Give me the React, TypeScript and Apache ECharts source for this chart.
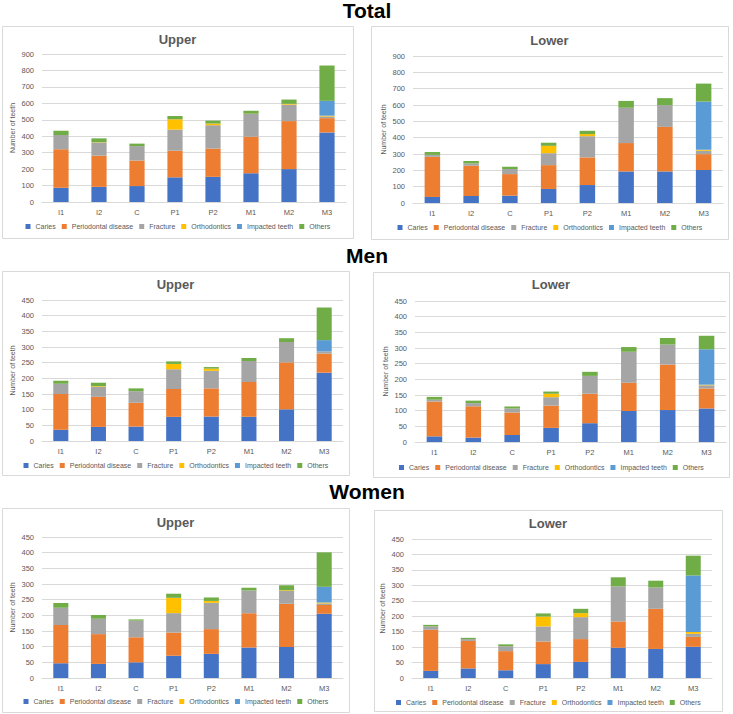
import React, { useEffect, useRef } from "react";
import * as echarts from "echarts";

const categories = ["I1", "I2", "C", "P1", "P2", "M1", "M2", "M3"];
const seriesNames = ["Caries", "Periodontal disease", "Fracture", "Orthodontics", "Impacted teeth", "Others"];
const seriesColors = ["#4472C4", "#ED7D31", "#A5A5A5", "#FFC000", "#5B9BD5", "#70AD47"];
const groupTitles = ["Total", "Men", "Women"];
const panelTitles = ["Upper", "Lower"];
const yAxisName = "Number of teeth";

// Total – Upper
const totalUpperCaries = [87, 92, 97, 150, 153, 175, 200, 423];
const totalUpperPerio = [234, 190, 155, 162, 172, 222, 292, 87];
const totalUpperFracture = [87, 80, 88, 128, 142, 138, 100, 10];
const totalUpperOrtho = [0, 2, 0, 63, 10, 2, 5, 5];
const totalUpperImpacted = [0, 0, 0, 0, 0, 0, 0, 90];
const totalUpperOthers = [25, 23, 15, 20, 18, 18, 26, 215];

// Total – Lower
const totalLowerCaries = [37, 43, 45, 86, 110, 193, 193, 202];
const totalLowerPerio = [246, 185, 132, 146, 169, 174, 273, 97];
const totalLowerFracture = [12, 14, 31, 73, 130, 216, 133, 21];
const totalLowerOrtho = [0, 0, 0, 45, 13, 0, 0, 6];
const totalLowerImpacted = [0, 0, 0, 0, 0, 0, 0, 295];
const totalLowerOthers = [17, 15, 14, 19, 20, 42, 43, 110];

// Men – Upper
const menUpperCaries = [36, 45, 46, 77, 78, 77, 101, 218];
const menUpperPerio = [114, 96, 76, 89, 90, 111, 150, 61];
const menUpperFracture = [33, 32, 37, 63, 56, 67, 65, 7];
const menUpperOrtho = [0, 2, 0, 17, 7, 0, 0, 0];
const menUpperImpacted = [0, 0, 0, 0, 0, 0, 0, 36];
const menUpperOthers = [9, 11, 9, 8, 5, 10, 12, 104];

// Men – Lower
const menLowerCaries = [18, 14, 22, 45, 60, 99, 102, 107];
const menLowerPerio = [111, 100, 72, 71, 94, 90, 145, 64];
const menLowerFracture = [6, 10, 13, 27, 57, 99, 64, 10];
const menLowerOrtho = [0, 0, 0, 11, 0, 0, 0, 2];
const menLowerImpacted = [0, 0, 0, 0, 0, 0, 0, 113];
const menLowerOthers = [9, 8, 6, 7, 13, 15, 21, 43];

// Women – Upper
const womenUpperCaries = [47, 45, 50, 71, 77, 97, 99, 205];
const womenUpperPerio = [122, 95, 80, 74, 79, 110, 138, 28];
const womenUpperFracture = [55, 49, 53, 62, 84, 72, 41, 5];
const womenUpperOrtho = [0, 0, 0, 49, 6, 0, 2, 3];
const womenUpperImpacted = [0, 0, 0, 0, 0, 0, 0, 50];
const womenUpperOthers = [15, 12, 4, 13, 11, 9, 16, 110];

// Women – Lower
const womenLowerCaries = [23, 31, 25, 45, 52, 98, 94, 101];
const womenLowerPerio = [133, 89, 62, 73, 74, 85, 130, 32];
const womenLowerFracture = [11, 6, 16, 49, 71, 114, 69, 10];
const womenLowerOrtho = [0, 0, 0, 32, 13, 0, 0, 6];
const womenLowerImpacted = [0, 0, 0, 0, 0, 0, 0, 183];
const womenLowerOthers = [5, 4, 6, 10, 14, 29, 22, 64];

const totalAxisMax = 900;
const totalAxisInterval = 100;
const sexAxisMax = 450;
const sexAxisInterval = 50;

const panelData = [
  [totalUpperCaries, totalUpperPerio, totalUpperFracture, totalUpperOrtho, totalUpperImpacted, totalUpperOthers],
  [totalLowerCaries, totalLowerPerio, totalLowerFracture, totalLowerOrtho, totalLowerImpacted, totalLowerOthers],
  [menUpperCaries, menUpperPerio, menUpperFracture, menUpperOrtho, menUpperImpacted, menUpperOthers],
  [menLowerCaries, menLowerPerio, menLowerFracture, menLowerOrtho, menLowerImpacted, menLowerOthers],
  [womenUpperCaries, womenUpperPerio, womenUpperFracture, womenUpperOrtho, womenUpperImpacted, womenUpperOthers],
  [womenLowerCaries, womenLowerPerio, womenLowerFracture, womenLowerOrtho, womenLowerImpacted, womenLowerOthers],
];
const panelScale = [
  [totalAxisMax, totalAxisInterval],
  [totalAxisMax, totalAxisInterval],
  [sexAxisMax, sexAxisInterval],
  [sexAxisMax, sexAxisInterval],
  [sexAxisMax, sexAxisInterval],
  [sexAxisMax, sexAxisInterval],
];

// layout (pixels)
const panels = [
  { box: [2, 26, 351, 212], grid: [42, 54, 304, 148], titleY: 39, legendY: 223 },
  { box: [371, 26, 357, 213], grid: [413, 56, 310, 147], titleY: 40, legendY: 224 },
  { box: [2, 271, 347, 204], grid: [42, 300, 301, 141], titleY: 284, legendY: 462 },
  { box: [373, 272, 356, 205], grid: [415, 301, 311, 141], titleY: 284, legendY: 464 },
  { box: [2, 508, 347, 204], grid: [42, 537, 301, 141], titleY: 522, legendY: 698 },
  { box: [374, 510, 348, 201], grid: [412, 539, 300, 139], titleY: 523, legendY: 699 },
];
const groupTitleY = [10, 255, 491];

const FONT = "'Liberation Sans', Arial, sans-serif";
const GRAY_TEXT = "#595959";
const GRID_LINE = "#D9D9D9";

export default function App() {
  const ref = useRef<HTMLDivElement>(null);
  useEffect(() => {
    if (!ref.current) return;
    const chart = echarts.init(ref.current, undefined, { renderer: "svg" });

    const grids: any[] = [];
    const xAxes: any[] = [];
    const yAxes: any[] = [];
    const legends: any[] = [];
    const series: any[] = [];
    const graphics: any[] = [];

    panels.forEach((p, i) => {
      const [bx, by, bw, bh] = p.box;
      const [gl, gt, gw, gh] = p.grid;
      const cx = bx + bw / 2;
      graphics.push({
        type: "rect",
        shape: { x: bx + 0.5, y: by + 0.5, width: bw, height: bh },
        style: { fill: "#FFFFFF", stroke: GRID_LINE, lineWidth: 1 },
        z: -10,
      });
      graphics.push({
        type: "text",
        x: cx,
        y: p.titleY,
        style: {
          text: panelTitles[i % 2],
          font: `bold 13px ${FONT}`,
          fill: GRAY_TEXT,
          textAlign: "center",
          textVerticalAlign: "middle",
          align: "center",
          verticalAlign: "middle",
        },
      });
      grids.push({ left: gl, top: gt, width: gw, height: gh, containLabel: false });
      xAxes.push({
        gridIndex: i,
        type: "category",
        data: categories,
        axisLine: { show: true, lineStyle: { color: GRID_LINE, width: 1 } },
        axisTick: { show: false },
        axisLabel: { color: GRAY_TEXT, fontSize: 7.5, fontFamily: FONT, margin: 6 },
      });
      yAxes.push({
        gridIndex: i,
        type: "value",
        min: 0,
        max: panelScale[i][0],
        interval: panelScale[i][1],
        axisLine: { show: false },
        axisTick: { show: false },
        splitLine: { show: true, lineStyle: { color: GRID_LINE, width: 1 } },
        axisLabel: { color: GRAY_TEXT, fontSize: 7.5, fontFamily: FONT, margin: 8 },
        name: yAxisName,
        nameLocation: "middle",
        nameGap: 26,
        nameTextStyle: { color: GRAY_TEXT, fontSize: 7, fontFamily: FONT },
      });
      legends.push({
        left: cx - 152,
        top: p.legendY,
        padding: 0,
        itemWidth: 5,
        itemHeight: 5,
        itemGap: 6,
        icon: "rect",
        selectedMode: false,
        data: seriesNames,
        textStyle: { color: GRAY_TEXT, fontSize: 7, fontFamily: FONT },
      });
      seriesNames.forEach((name, s) => {
        series.push({
          name,
          type: "bar",
          xAxisIndex: i,
          yAxisIndex: i,
          stack: "stack" + i,
          barCategoryGap: "60%",
          itemStyle: { color: seriesColors[s] },
          data: panelData[i][s],
        });
      });
    });

    groupTitles.forEach((t, k) => {
      graphics.push({
        type: "text",
        x: 367,
        y: groupTitleY[k],
        style: {
          text: t,
          font: `bold 21px ${FONT}`,
          fill: "#000000",
          textAlign: "center",
          textVerticalAlign: "middle",
          align: "center",
          verticalAlign: "middle",
        },
      });
    });

    chart.setOption({
      animation: false,
      backgroundColor: "#FFFFFF",
      textStyle: { fontFamily: FONT },
      graphic: graphics,
      grid: grids,
      xAxis: xAxes,
      yAxis: yAxes,
      legend: legends,
      series,
    });
    return () => chart.dispose();
  }, []);
  return (
    <div
      ref={ref}
      style={{ position: "absolute", left: 0, top: 0, width: 733, height: 714 }}
    />
  );
}
